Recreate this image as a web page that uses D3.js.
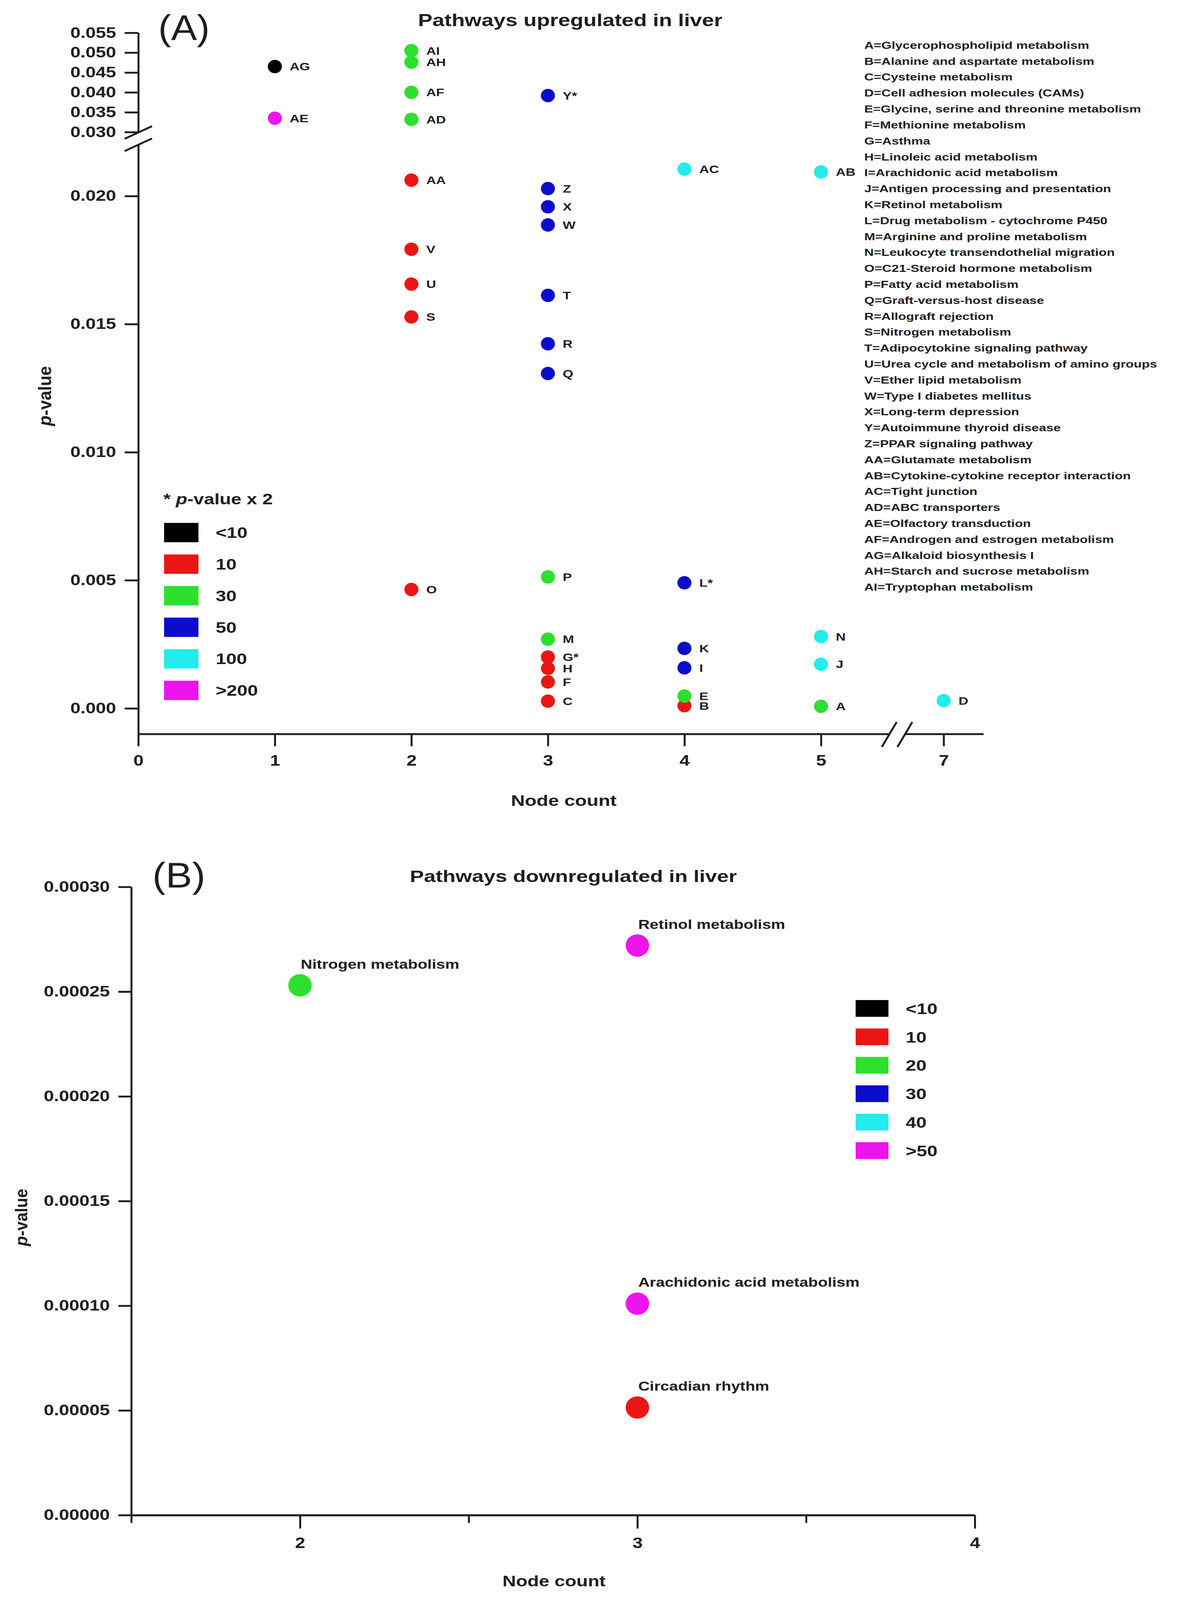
<!DOCTYPE html>
<html>
<head>
<meta charset="utf-8">
<script src="https://cdn.jsdelivr.net/npm/d3@7"></script>
<style>
  html, body { margin: 0; padding: 0; background: #fff; overflow: hidden; }
  svg { display: block; }
</style>
</head>
<body>
<div id="chart"></div>
<script>
// panel A: pathways upregulated in liver
var labels_a = ['A', 'B', 'C', 'D', 'E', 'F', 'G*', 'H', 'I', 'J', 'K', 'L*', 'M', 'N', 'O', 'P', 'Q', 'R',
  'S', 'T', 'U', 'V', 'W', 'X', 'Y*', 'Z', 'AA', 'AB', 'AC', 'AD', 'AE', 'AF', 'AG', 'AH', 'AI'];
var nodes_a = [5, 4, 3, 7, 4, 3, 3, 3, 4, 5, 4, 4, 3, 5, 2, 3, 3, 3,
  2, 3, 2, 2, 3, 3, 3, 3, 2, 5, 4, 2, 1, 2, 1, 2, 2];
var pvalues_a = [0.00008, 0.0001, 0.00028, 0.0003, 0.00048, 0.00103, 0.002, 0.00156, 0.00158, 0.00172,
  0.00234, 0.0049, 0.0027, 0.0028, 0.00464, 0.00513, 0.01307, 0.01423,
  0.01528, 0.01612, 0.01656, 0.01792, 0.01887, 0.01958, 0.0392, 0.02029, 0.02062, 0.02094, 0.02105,
  0.0332, 0.0335, 0.04, 0.0465, 0.0476, 0.0505];
//index into categories_a (size group)
var groups_a = [2, 1, 1, 4, 2, 1, 1, 1, 3, 4, 3, 3, 2, 4, 1, 2, 3, 3,
  1, 3, 1, 1, 3, 3, 3, 3, 1, 4, 4, 2, 5, 2, 0, 2, 2];
var categories_a = ['<10', '10', '30', '50', '100', '>200'];
var pathways_a = [
  'A=Glycerophospholipid metabolism',
  'B=Alanine and aspartate metabolism',
  'C=Cysteine metabolism',
  'D=Cell adhesion molecules (CAMs)',
  'E=Glycine, serine and threonine metabolism',
  'F=Methionine metabolism',
  'G=Asthma',
  'H=Linoleic acid metabolism',
  'I=Arachidonic acid metabolism',
  'J=Antigen processing and presentation',
  'K=Retinol metabolism',
  'L=Drug metabolism - cytochrome P450',
  'M=Arginine and proline metabolism',
  'N=Leukocyte transendothelial migration',
  'O=C21-Steroid hormone metabolism',
  'P=Fatty acid metabolism',
  'Q=Graft-versus-host disease',
  'R=Allograft rejection',
  'S=Nitrogen metabolism',
  'T=Adipocytokine signaling pathway',
  'U=Urea cycle and metabolism of amino groups',
  'V=Ether lipid metabolism',
  'W=Type I diabetes mellitus',
  'X=Long-term depression',
  'Y=Autoimmune thyroid disease',
  'Z=PPAR signaling pathway',
  'AA=Glutamate metabolism',
  'AB=Cytokine-cytokine receptor interaction',
  'AC=Tight junction',
  'AD=ABC transporters',
  'AE=Olfactory transduction',
  'AF=Androgen and estrogen metabolism',
  'AG=Alkaloid biosynthesis I',
  'AH=Starch and sucrose metabolism',
  'AI=Tryptophan metabolism'
];
var ticks_ya_low = [0, 0.005, 0.01, 0.015, 0.02];
var ticks_ya_up = [0.03, 0.035, 0.04, 0.045, 0.05, 0.055];
var ticks_xa_left = [0, 1, 2, 3, 4, 5];
var ticks_xa_right = [7];

// panel B: pathways downregulated in liver
var names_b = ['Nitrogen metabolism', 'Retinol metabolism', 'Arachidonic acid metabolism', 'Circadian rhythm'];
var nodes_b = [2, 3, 3, 3];
var pvalues_b = [0.000253, 0.000272, 0.000101, 0.0000514];
var groups_b = [2, 5, 5, 1];
var categories_b = ['<10', '10', '20', '30', '40', '>50'];
var ticks_yb = [0, 0.00005, 0.0001, 0.00015, 0.0002, 0.00025, 0.0003];
var ticks_xb = [2, 3, 4];
var minor_xb = [1.5, 2.5, 3.5];

var colors = ['#000000', '#ec1515', '#2de02d', '#0c0ccc', '#22ecec', '#ee14ee'];

//drawing space is the reference size, mapped onto whatever the viewport really is
var chart_width = 3033;
var chart_height = 4299;
var font = "'Liberation Sans', Arial, Helvetica, sans-serif";
var ink = '#1e1e1e';
//the source figure is a bit wider than plain Arial, stretch text horizontally
var sx = 1.2;
var tick_sx = 1.17;

var svg = d3
  .select('#chart')
  .append('svg')
  .attr('width', window.innerWidth || chart_width)
  .attr('height', window.innerHeight || chart_height)
  .attr('viewBox', '0 0 ' + chart_width + ' ' + chart_height)
  .attr('preserveAspectRatio', 'none')
  .attr('font-family', font);

svg.append('rect').attr('width', chart_width).attr('height', chart_height).attr('fill', '#fff');

function at(x, y, s) {
  return 'translate(' + x + ',' + y + ') scale(' + s + ',1)';
}

//common look for every axis
function dressAxis(g, side) {
  g.attr('font-family', font).attr('font-size', 40).attr('font-weight', 'bold');
  g.select('.domain').attr('stroke', ink).attr('stroke-width', 5);
  g.selectAll('.tick line').attr('stroke', ink).attr('stroke-width', 5);
  g.selectAll('.tick text').attr('fill', ink);
  if (side === 'left') {
    g.selectAll('.tick text').each(function() {
      var t = d3.select(this);
      t.attr('x', +t.attr('x') / tick_sx).attr('transform', 'scale(' + tick_sx + ',1)');
    });
  } else {
    g.selectAll('.tick text').attr('transform', 'scale(' + tick_sx + ',1)');
  }
}

/* ---------------- panel A ---------------- */
//y axis is broken in two pieces, x axis too (5 -> 7)
var ya_low = d3.scaleLinear().domain([-0.001, 0.022]).range([1972, 389]);
var ya_up = d3.scaleLinear().domain([0.0299, 0.055]).range([356, 88]);
var xa_left = d3.scaleLinear().domain([0, 5.5]).range([354, 2276]);
var xa_right = d3.scaleLinear().domain([6.717, 7.29]).range([2316, 2517]);

function ya(v) {
  return v > 0.025 ? ya_up(v) : ya_low(v);
}
function xa(v) {
  return v > 6 ? xa_right(v) : xa_left(v);
}

var x0_a = xa_left(0);
var y0_a = ya_low(-0.001);

svg.append('g')
  .attr('transform', 'translate(' + x0_a + ',0)')
  .call(d3.axisLeft(ya_low).tickValues(ticks_ya_low).tickFormat(d3.format('.3f'))
    .tickSize(35).tickSizeOuter(0).tickPadding(22))
  .call(dressAxis, 'left');

svg.append('g')
  .attr('transform', 'translate(' + x0_a + ',0)')
  .call(d3.axisLeft(ya_up).tickValues(ticks_ya_up).tickFormat(d3.format('.3f'))
    .tickSize(35).tickSizeOuter(0).tickPadding(22))
  .call(dressAxis, 'left');

svg.append('g')
  .attr('transform', 'translate(0,' + y0_a + ')')
  .call(d3.axisBottom(xa_left).tickValues(ticks_xa_left).tickFormat(d3.format('d'))
    .tickSize(33).tickSizeOuter(0).tickPadding(24))
  .call(dressAxis, 'bottom');

svg.append('g')
  .attr('transform', 'translate(0,' + y0_a + ')')
  .call(d3.axisBottom(xa_right).tickValues(ticks_xa_right).tickFormat(d3.format('d'))
    .tickSize(33).tickSizeOuter(0).tickPadding(24))
  .call(dressAxis, 'bottom');

//break marks on the y axis
[ya_up.range()[0], ya_low.range()[1]].forEach(function(yb) {
  svg.append('line')
    .attr('x1', x0_a - 35).attr('y1', yb + 17)
    .attr('x2', x0_a + 35).attr('y2', yb - 17)
    .attr('stroke', ink).attr('stroke-width', 5);
});
//break marks on the x axis
[xa_left.range()[1], xa_right.range()[0]].forEach(function(xb) {
  svg.append('line')
    .attr('x1', xb - 19).attr('y1', y0_a + 35)
    .attr('x2', xb + 19).attr('y2', y0_a - 32)
    .attr('stroke', ink).attr('stroke-width', 5);
});

var points_a = labels_a.map(function(d, i) {
  return { label: d, node: nodes_a[i], p: pvalues_a[i], group: groups_a[i] };
});

svg.selectAll('circle.pa')
  .data(points_a)
  .enter()
  .append('circle')
  .attr('class', 'pa')
  .attr('cx', function(d) { return xa(d.node); })
  .attr('cy', function(d) { return ya(d.p); })
  .attr('r', 18)
  .attr('fill', function(d) { return colors[d.group]; });

svg.selectAll('text.la')
  .data(points_a)
  .enter()
  .append('text')
  .attr('class', 'la')
  .attr('transform', function(d) { return at(xa(d.node) + 38, ya(d.p), sx); })
  .attr('dy', '0.36em')
  .attr('font-size', 29)
  .attr('font-weight', 'bold')
  .attr('fill', ink)
  .text(function(d) { return d.label; });

//titles and axis names
svg.append('text')
  .attr('transform', at(405, 107, 1.03))
  .attr('font-size', 96)
  .attr('fill', ink)
  .text('(A)');

svg.append('text')
  .attr('transform', at(1070, 70, sx))
  .attr('font-size', 46)
  .attr('font-weight', 'bold')
  .attr('fill', ink)
  .text('Pathways upregulated in liver');

svg.append('text')
  .attr('transform', at(1443, 2165, sx))
  .attr('text-anchor', 'middle')
  .attr('font-size', 41)
  .attr('font-weight', 'bold')
  .attr('fill', ink)
  .text('Node count');

var yla = svg.append('text')
  .attr('transform', 'translate(131,1064) rotate(-90)')
  .attr('text-anchor', 'middle')
  .attr('font-size', 46)
  .attr('font-weight', 'bold')
  .attr('fill', ink);
yla.append('tspan').attr('font-style', 'italic').text('p');
yla.append('tspan').text('-value');

//colour key A
var key_a = svg.append('text')
  .attr('transform', at(418, 1355, sx))
  .attr('font-size', 40)
  .attr('font-weight', 'bold')
  .attr('fill', ink);
key_a.append('tspan').text('* ');
key_a.append('tspan').attr('font-style', 'italic').text('p');
key_a.append('tspan').text('-value x 2');

var key_a_y = d3.scaleLinear().domain([0, 5]).range([1431, 1855]);

svg.selectAll('rect.ka')
  .data(categories_a)
  .enter()
  .append('rect')
  .attr('class', 'ka')
  .attr('x', 420)
  .attr('y', function(d, i) { return key_a_y(i) - 26; })
  .attr('width', 88)
  .attr('height', 52)
  .attr('fill', function(d, i) { return colors[i]; });

svg.selectAll('text.ka')
  .data(categories_a)
  .enter()
  .append('text')
  .attr('class', 'ka')
  .attr('transform', function(d, i) { return at(552, key_a_y(i), sx); })
  .attr('dy', '0.36em')
  .attr('font-size', 40)
  .attr('font-weight', 'bold')
  .attr('fill', ink)
  .text(function(d) { return d; });

//letter key on the right
var list_y = d3.scaleLinear().domain([0, pathways_a.length - 1]).range([121, 1577]);

svg.selectAll('text.path')
  .data(pathways_a)
  .enter()
  .append('text')
  .attr('class', 'path')
  .attr('transform', function(d, i) { return at(2212, list_y(i), sx); })
  .attr('dy', '0.36em')
  .attr('font-size', 28)
  .attr('font-weight', 'bold')
  .attr('fill', ink)
  .text(function(d) { return d; });

/* ---------------- panel B ---------------- */
var yb = d3.scaleLinear().domain([0, 0.0003]).range([4071, 2383]);
var xb = d3.scaleLinear().domain([1.5, 4]).range([336, 2495]);

svg.append('g')
  .attr('transform', 'translate(' + xb(1.5) + ',0)')
  .call(d3.axisLeft(yb).tickValues(ticks_yb).tickFormat(d3.format('.5f'))
    .tickSize(33).tickSizeOuter(0).tickPadding(22))
  .call(dressAxis, 'left');

svg.append('g')
  .attr('transform', 'translate(0,' + yb(0) + ')')
  .call(d3.axisBottom(xb).tickValues(ticks_xb).tickFormat(d3.format('d'))
    .tickSize(36).tickSizeOuter(0).tickPadding(24))
  .call(dressAxis, 'bottom');

//minor ticks without labels
svg.append('g')
  .attr('transform', 'translate(0,' + yb(0) + ')')
  .call(d3.axisBottom(xb).tickValues(minor_xb).tickFormat('').tickSize(21).tickSizeOuter(0))
  .call(dressAxis, 'bottom');

var points_b = names_b.map(function(d, i) {
  return { name: d, node: nodes_b[i], p: pvalues_b[i], group: groups_b[i] };
});

svg.selectAll('circle.pb')
  .data(points_b)
  .enter()
  .append('circle')
  .attr('class', 'pb')
  .attr('cx', function(d) { return xb(d.node); })
  .attr('cy', function(d) { return yb(d.p); })
  .attr('r', 30)
  .attr('fill', function(d) { return colors[d.group]; });

svg.selectAll('text.lb')
  .data(points_b)
  .enter()
  .append('text')
  .attr('class', 'lb')
  .attr('transform', function(d) { return at(xb(d.node) + 2, yb(d.p) - 45, sx); })
  .attr('font-size', 34)
  .attr('font-weight', 'bold')
  .attr('fill', ink)
  .text(function(d) { return d.name; });

svg.append('text')
  .attr('transform', at(390, 2385, 1.06))
  .attr('font-size', 96)
  .attr('fill', ink)
  .text('(B)');

svg.append('text')
  .attr('transform', at(1049, 2370, sx))
  .attr('font-size', 45)
  .attr('font-weight', 'bold')
  .attr('fill', ink)
  .text('Pathways downregulated in liver');

svg.append('text')
  .attr('transform', at(1418, 4262, sx))
  .attr('text-anchor', 'middle')
  .attr('font-size', 40)
  .attr('font-weight', 'bold')
  .attr('fill', ink)
  .text('Node count');

var ylb = svg.append('text')
  .attr('transform', 'translate(70,3271) rotate(-90)')
  .attr('text-anchor', 'middle')
  .attr('font-size', 44)
  .attr('font-weight', 'bold')
  .attr('fill', ink);
ylb.append('tspan').attr('font-style', 'italic').text('p');
ylb.append('tspan').text('-value');

//colour key B
var key_b_y = d3.scaleLinear().domain([0, 5]).range([2710, 3092]);

svg.selectAll('rect.kb')
  .data(categories_b)
  .enter()
  .append('rect')
  .attr('class', 'kb')
  .attr('x', 2190)
  .attr('y', function(d, i) { return key_b_y(i) - 23; })
  .attr('width', 84)
  .attr('height', 45)
  .attr('fill', function(d, i) { return colors[i]; });

svg.selectAll('text.kb')
  .data(categories_b)
  .enter()
  .append('text')
  .attr('class', 'kb')
  .attr('transform', function(d, i) { return at(2318, key_b_y(i), sx); })
  .attr('dy', '0.36em')
  .attr('font-size', 40)
  .attr('font-weight', 'bold')
  .attr('fill', ink)
  .text(function(d) { return d; });
</script>
</body>
</html>
